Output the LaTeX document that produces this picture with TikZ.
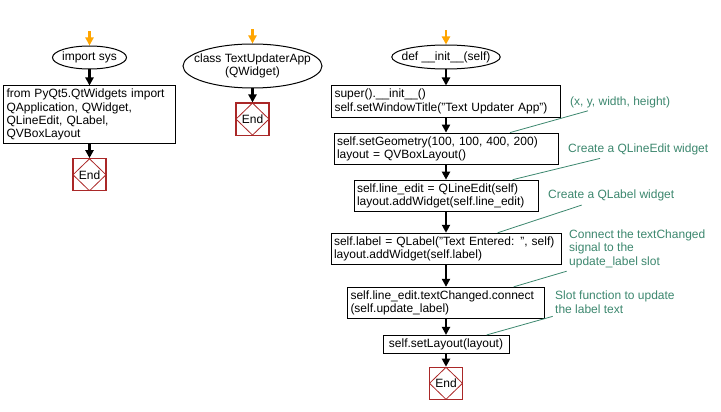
\documentclass[tikz,border=0pt]{standalone}
\usepackage{fontspec}
\setmainfont{Liberation Sans}
\usepackage{xcolor}
\usetikzlibrary{shapes,arrows.meta,positioning}

\definecolor{startorange}{RGB}{255,165,0}
\definecolor{endred}{RGB}{170,40,40}
\definecolor{notegreen}{RGB}{60,135,110}

\begin{document}
\begin{tikzpicture}[
    x=1pt, y=1pt,
    startnode/.style={ellipse, draw, line width=1pt, inner ysep=0pt, font={\fontsize{12pt}{13.3pt}\selectfont}, align=center},
    codebox/.style={rectangle, draw, line width=1pt, inner xsep=3pt, inner ysep=3.3pt, font={\fontsize{12pt}{13.3pt}\selectfont}, align=left},
    endnode/.style={rectangle, draw=endred, line width=1.2pt, minimum width=33pt, minimum height=32pt, inner sep=0pt, font={\fontsize{12pt}{13.3pt}\selectfont},
        path picture={\draw[endred, line width=0.8pt] (path picture bounding box.north) -- (path picture bounding box.east) -- (path picture bounding box.south) -- (path picture bounding box.west) -- cycle;}},
    comment/.style={anchor=west, inner sep=0pt, text=notegreen, font={\fontsize{12pt}{13.3pt}\selectfont}, align=left},
    commentline/.style={notegreen, line width=0.8pt},
    flow/.style={-{Triangle[length=8pt, width=8pt]}, line width=2.6pt},
    entry/.style={flow, startorange},
]
    \useasboundingbox (0,0) rectangle (721,-412);

    % Module level (left column)
    \node[startnode, inner xsep=-1.2pt, minimum width=74pt, minimum height=23pt] (imp) at (89.5,-57.5) {import sys};
    \node[codebox, text width=166pt, below=16pt of imp] (impbox) {from PyQt5.QtWidgets import\\QApplication, QWidget,\\QLineEdit, QLabel,\\QVBoxLayout};
    \node[endnode, below=14pt of impbox] (impend) {End};
    \coordinate[above=14pt of imp] (impin);

    % Class header (middle column)
    \node[startnode, inner xsep=-9.8pt, minimum width=139pt, minimum height=44pt] (cls) at (252.5,-66) {class TextUpdaterApp\\(QWidget)};
    \node[endnode, below=14pt of cls] (clsend) {End};
    \coordinate[above=14pt of cls] (clsin);

    % Constructor body (right column)
    \node[startnode, inner xsep=-6pt, minimum width=108pt, minimum height=24pt] (init) at (446,-57) {def \_\_init\_\_(self)};
    \node[codebox, text width=223pt, below=16pt of init] (super) {super().\_\_init\_\_()\\self.setWindowTitle("Text Updater App")};
    \node[codebox, text width=218pt, below=15pt of super] (geom) {self.setGeometry(100, 100, 400, 200)\\layout = QVBoxLayout()};
    \node[codebox, text width=178pt, below=15pt of geom] (lineedit) {self.line\_edit = QLineEdit(self)\\layout.addWidget(self.line\_edit)};
    \node[codebox, text width=224pt, below=21pt of lineedit] (label) {self.label = QLabel("Text Entered: ", self)\\layout.addWidget(self.label)};
    \node[codebox, text width=191pt, below=22pt of label] (connect) {self.line\_edit.textChanged.connect\\(self.update\_label)};
    \node[codebox, minimum width=126pt, below=16pt of connect] (setlayout) {self.setLayout(layout)};
    \node[endnode, below=13pt of setlayout] (initend) {End};
    \coordinate[above=14pt of init] (initin);

    % Comments
    \node[comment] (note1) at (570,-102.7) {(x, y, width, height)};
    \node[comment] (note2) at (568,-149) {Create a QLineEdit widget};
    \node[comment] (note3) at (548,-195.7) {Create a QLabel widget};
    \node[comment] (note4) at (569,-248.7) {Connect the textChanged\\signal to the\\update\_label slot};
    \node[comment] (note5) at (555,-302.2) {Slot function to update\\the label text};

    % Flow arrows
    \draw[entry] (impin) -- (imp);
    \draw[flow] (imp) -- (impbox);
    \draw[flow] (impbox) -- (impend);

    \draw[entry] (clsin) -- (cls);
    \draw[flow] (cls) -- (clsend);

    \draw[entry] (initin) -- (init);
    \draw[flow] (init) -- (super);
    \draw[flow] (super) -- (geom);
    \draw[flow] (geom) -- (lineedit);
    \draw[flow] (lineedit) -- (label);
    \draw[flow] (label) -- (connect);
    \draw[flow] (connect) -- (setlayout);
    \draw[flow] (setlayout) -- (initend);

    % Comment connectors
    \draw[commentline] ([xshift=64pt]geom.north) -- ([xshift=18pt, yshift=-2.3pt]note1.south west);
    \draw[commentline] ([xshift=66.7pt]lineedit.north) -- ([xshift=32pt, yshift=-3.6pt]note2.south west);
    \draw[commentline] ([xshift=51.7pt]label.north) -- ([xshift=33.7pt, yshift=-3.6pt]note3.south west);
    \draw[commentline] ([xshift=67.7pt]connect.north) -- ([xshift=-2.3pt, yshift=-3.4pt]note4.south west);
    \draw[commentline] ([xshift=40.7pt]setlayout.north) -- ([xshift=-2.3pt, yshift=-2.9pt]note5.south west);
\end{tikzpicture}
\end{document}
